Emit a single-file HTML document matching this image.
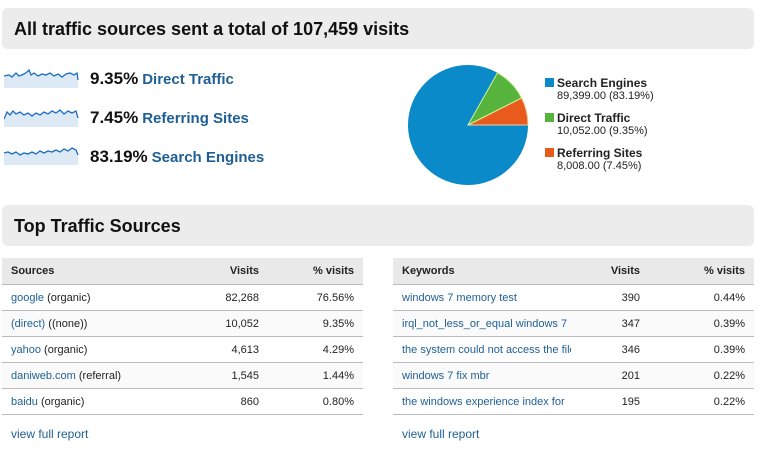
<!DOCTYPE html>
<html><head><style>
body{margin:0;width:764px;height:470px;background:#fff;font-family:"Liberation Sans",Arial,sans-serif;position:relative;overflow:hidden}
.hd{position:absolute;left:2px;width:752px;height:41px;background:#ececec;border-radius:6px}
.hd span{position:absolute;left:12px;top:11px;font-size:18px;font-weight:bold;color:#111}
.a{color:#1f5f96}
.row{position:absolute;left:90px;font-size:17px;font-weight:bold;color:#111}
.row b{color:#1f5f96;font-size:15px;margin-left:4px}
.spark{position:absolute;left:4px}
table{position:absolute;border-collapse:collapse;font-size:11px;color:#222;table-layout:fixed}
th{background:#e9e9e9;height:26px;text-align:right;padding:0 9px;font-weight:bold;border-bottom:1px solid #bbb}
th:first-child{text-align:left}
td{height:25px;border-bottom:1px solid #bbb;text-align:right;padding:0 9px;white-space:nowrap;overflow:hidden}
td:first-child{text-align:left}
tr:nth-child(odd) td{background:#fafafa}
.vf{position:absolute;font-size:12px;color:#1f5f96}
.lg{position:absolute;left:557px;font-size:11px;color:#222}
.lg b{font-size:12px;display:block}
.sq{position:absolute;left:-12px;top:2px;width:9px;height:9px}
</style></head><body>
<div class="hd" style="top:8px"><span>All traffic sources sent a total of 107,459 visits</span></div>
<svg class="spark" style="top:68px" width="76" height="20"><path d="M0 8 L5 7 8 9 12 5 15 8 20 6 23 4 25 2 27 7 30 5 34 8 38 6 42 7 46 5 50 8 54 6 58 9 62 6 66 5 70 7 73 5 74 12 L74 20 0 20Z" fill="#dde9f5"/><polyline points="0,8 5,7 8,9 12,5 15,8 20,6 23,4 25,2 27,7 30,5 34,8 38,6 42,7 46,5 50,8 54,6 58,9 62,6 66,5 70,7 73,5 74,12" fill="none" stroke="#1a6fc4" stroke-width="1.3"/></svg>
<svg class="spark" style="top:107px" width="76" height="20"><path d="M0 12 L3 5 6 8 9 4 12 7 16 5 20 8 24 6 28 9 32 6 36 8 40 5 44 7 48 4 52 6 56 3 60 7 64 4 68 6 72 4 74 11 L74 20 0 20Z" fill="#dde9f5"/><polyline points="0,12 3,5 6,8 9,4 12,7 16,5 20,8 24,6 28,9 32,6 36,8 40,5 44,7 48,4 52,6 56,3 60,7 64,4 68,6 72,4 74,11" fill="none" stroke="#1a6fc4" stroke-width="1.3"/></svg>
<svg class="spark" style="top:145px" width="76" height="20"><path d="M0 8 L4 7 8 9 12 7 16 10 20 8 24 9 28 7 32 9 36 6 40 8 44 6 48 7 52 5 56 7 60 4 64 6 68 3 72 5 74 10 L74 20 0 20Z" fill="#dde9f5"/><polyline points="0,8 4,7 8,9 12,7 16,10 20,8 24,9 28,7 32,9 36,6 40,8 44,6 48,7 52,5 56,7 60,4 64,6 68,3 72,5 74,10" fill="none" stroke="#1a6fc4" stroke-width="1.3"/></svg>
<div class="row" style="top:69px">9.35%<b>Direct Traffic</b></div>
<div class="row" style="top:108px">7.45%<b>Referring Sites</b></div>
<div class="row" style="top:147px">83.19%<b>Search Engines</b></div>
<svg style="position:absolute;left:0;top:0" width="764" height="200">
<circle cx="468" cy="125" r="60" fill="#0a8ac9"/>
<path d="M468 125 L528 125 A60 60 0 0 0 521.6 97.9Z" fill="#e85b1c" stroke="#f0d0a0" stroke-width="1"/>
<path d="M468 125 L521.6 97.9 A60 60 0 0 0 497.5 72.8Z" fill="#56b43c" stroke="#d8efa0" stroke-width="1"/>
</svg>
<div class="lg" style="top:76px"><div class="sq" style="background:#0a8ac9"></div><b>Search Engines</b>89,399.00 (83.19%)</div>
<div class="lg" style="top:111px"><div class="sq" style="background:#56b43c"></div><b>Direct Traffic</b>10,052.00 (9.35%)</div>
<div class="lg" style="top:146px"><div class="sq" style="background:#e85b1c"></div><b>Referring Sites</b>8,008.00 (7.45%)</div>
<div class="hd" style="top:205px"><span>Top Traffic Sources</span></div>
<table style="left:2px;top:258px;width:361px">
<colgroup><col style="width:190px"><col style="width:76px"><col></colgroup>
<tr><th>Sources</th><th>Visits</th><th>% visits</th></tr>
<tr><td><span class="a">google</span> (organic)</td><td>82,268</td><td>76.56%</td></tr>
<tr><td><span class="a">(direct)</span> ((none))</td><td>10,052</td><td>9.35%</td></tr>
<tr><td><span class="a">yahoo</span> (organic)</td><td>4,613</td><td>4.29%</td></tr>
<tr><td><span class="a">daniweb.com</span> (referral)</td><td>1,545</td><td>1.44%</td></tr>
<tr><td><span class="a">baidu</span> (organic)</td><td>860</td><td>0.80%</td></tr>
</table>
<table style="left:393px;top:258px;width:361px">
<colgroup><col style="width:178px"><col style="width:78px"><col></colgroup>
<tr><th>Keywords</th><th>Visits</th><th>% visits</th></tr>
<tr><td class="a">windows 7 memory test</td><td>390</td><td>0.44%</td></tr>
<tr><td class="a">irql_not_less_or_equal windows 7</td><td>347</td><td>0.39%</td></tr>
<tr><td class="a">the system could not access the file</td><td>346</td><td>0.39%</td></tr>
<tr><td class="a">windows 7 fix mbr</td><td>201</td><td>0.22%</td></tr>
<tr><td class="a">the windows experience index for</td><td>195</td><td>0.22%</td></tr>
</table>
<div class="vf" style="left:11px;top:427px">view full report</div>
<div class="vf" style="left:402px;top:427px">view full report</div>
</body></html>
